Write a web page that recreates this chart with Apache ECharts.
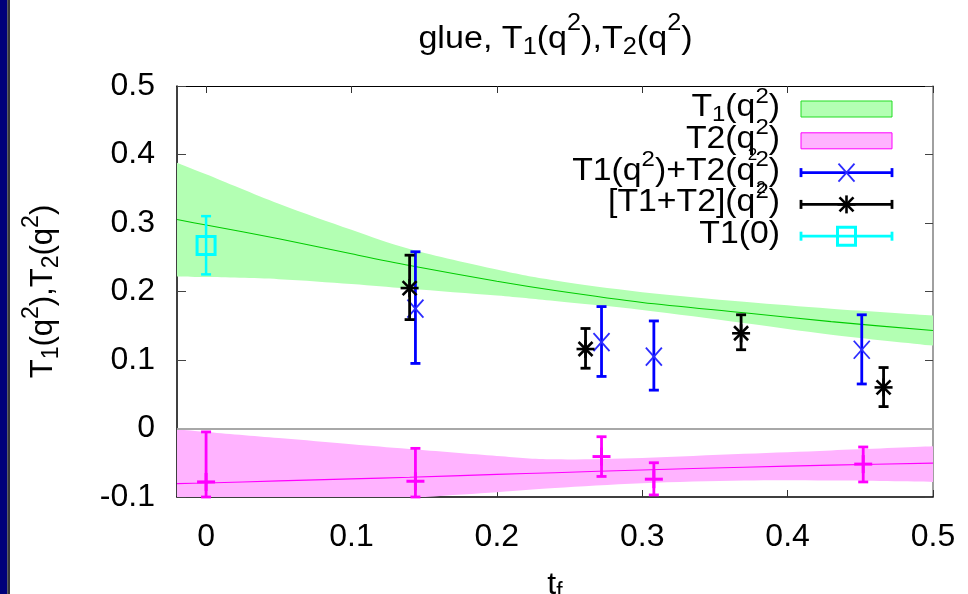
<!DOCTYPE html>
<html>
<head>
<meta charset="utf-8">
<script src="https://cdn.jsdelivr.net/npm/echarts@6/dist/echarts.min.js"></script>
<style>
  html, body { margin: 0; padding: 0; background: #ffffff; }
  #chart { width: 968px; height: 594px; }
</style>
</head>
<body>
<div id="chart"></div>
<script>
// ---- fit bands, sampled along t_f ----
const bandT = [-0.02, 0.0, 0.05, 0.1, 0.14, 0.2, 0.24, 0.3, 0.37, 0.43, 0.5];
const t1Mid = [0.305, 0.297, 0.277, 0.255, 0.238, 0.215, 0.2015, 0.184, 0.169, 0.156, 0.143];
const t1Hi  = [0.388, 0.371, 0.328, 0.290, 0.262, 0.232, 0.216, 0.199, 0.185, 0.175, 0.165];
const t1Lo  = [0.222, 0.221, 0.218, 0.211, 0.204, 0.194, 0.186, 0.173, 0.154, 0.137, 0.121];
const t2Mid = [-0.0805, -0.0795, -0.0765, -0.0735, -0.0712, -0.067, -0.0645, -0.0605, -0.0565, -0.0535, -0.0505];
const t2Hi  = [-0.001, -0.005, -0.014, -0.023, -0.030, -0.040, -0.045, -0.043, -0.037, -0.032, -0.026];
const t2Lo  = [-0.150, -0.144, -0.130, -0.114, -0.102, -0.093, -0.087, -0.080, -0.076, -0.076, -0.078];

// ---- T1(q^2)+T2(q^2) ----
const sumT  = [0.144, 0.272, 0.308, 0.451];
const sumV  = [0.175, 0.126, 0.105, 0.115];
const sumLo = [0.095, 0.076, 0.056, 0.065];
const sumHi = [0.258, 0.178, 0.157, 0.166];

// ---- [T1+T2](q^2) ----
const combT  = [0.140, 0.261, 0.368, 0.466];
const combV  = [0.205, 0.116, 0.139, 0.060];
const combLo = [0.159, 0.088, 0.115, 0.032];
const combHi = [0.253, 0.146, 0.166, 0.089];

// ---- T2 points ----
const t2T   = [0.0, 0.144, 0.272, 0.308, 0.452];
const t2V   = [-0.078, -0.077, -0.041, -0.074, -0.052];
const t2PLo = [-0.100, -0.100, -0.070, -0.097, -0.078];
const t2PHi = [-0.005, -0.029, -0.012, -0.050, -0.027];

// ---- T1(0) ----
const t10T  = [0.0];
const t10V  = [0.267];
const t10Lo = [0.225];
const t10Hi = [0.310];

// ---- axis ticks ----
const xTicks = [0, 0.1, 0.2, 0.3, 0.4, 0.5];

const FONT = '"Liberation Sans", Arial, Helvetica, sans-serif';

function richStyles(F, f, up, down) {
  return {
    m:   { fontSize: F, lineHeight: F, fontFamily: FONT, color: '#000' },
    sup: { fontSize: f, lineHeight: f, fontFamily: FONT, color: '#000', padding: [0, 0, 2 * up, 0] },
    sub: { fontSize: f, lineHeight: f, fontFamily: FONT, color: '#000', padding: [2 * down, 0, 0, 0] }
  };
}

const titleText  = '{m|glue, T}{sub|1}{m|(q}{sup|2}{m|),T}{sub|2}{m|(q}{sup|2}{m|)}';
const yNameText  = '{m|T}{sub|1}{m|(q}{sup|2}{m|),T}{sub|2}{m|(q}{sup|2}{m|)}';
const xNameText  = '{m|t}{sub|f}';
const legendText = [
  '{m|T}{sub|1}{m|(q}{sup|2}{m|)}',
  '{m|T2(q}{sup|2}{m|)}',
  '{m|T1(q}{sup|2}{m|)+T2(q}{sup|2}{m|)}',
  '{m|[T1+T2](q}{sup|2}{m|)}',
  '{m|T1(0)}'
];

const C_GREEN_FILL = '#b3ffb3';
const C_PINK_FILL  = '#ffb3ff';
const C_GREEN_LINE = '#00cc00';
const C_MAGENTA    = '#ff00ff';
const C_BLUE       = '#0000ff';
const C_BLUE_MARK  = '#2b2bff';
const C_BLACK      = '#000000';
const C_CYAN       = '#00ffff';

function seg(x1, y1, x2, y2, color, w) {
  return { type: 'line', shape: { x1, y1, x2, y2 }, style: { stroke: color, lineWidth: w } };
}

function markerShapes(kind, cx, cy, color) {
  switch (kind) {
    case 'x':
      return [seg(cx - 8, cy - 9, cx + 8, cy + 9, color, 1.8), seg(cx - 8, cy + 9, cx + 8, cy - 9, color, 1.8)];
    case 'star':
      return [
        seg(cx - 9, cy, cx + 9, cy, color, 2.6), seg(cx, cy - 9, cx, cy + 9, color, 2.6),
        seg(cx - 7, cy - 7, cx + 7, cy + 7, color, 2.6), seg(cx - 7, cy + 7, cx + 7, cy - 7, color, 2.6)
      ];
    case 'plus':
      return [seg(cx - 9, cy, cx + 9, cy, color, 3), seg(cx, cy - 9, cx, cy + 9, color, 3)];
    case 'square':
      return [{ type: 'rect', shape: { x: cx - 9, y: cy - 9, width: 18, height: 18 }, style: { stroke: color, fill: 'none', lineWidth: 3 } }];
  }
  return [];
}

function pointSeries(name, xs, ys, los, his, barColor, kind, markColor, barW) {
  return {
    type: 'custom', name, xAxisIndex: 0, yAxisIndex: 0, z: 5, silent: true,
    data: xs.map((x, i) => [x, ys[i], los[i], his[i]]),
    encode: { x: 0, y: [1, 2, 3] },
    renderItem: function (params, api) {
      const x = api.value(0);
      const c = api.coord([x, api.value(1)]);
      const lo = api.coord([x, api.value(2)]);
      const hi = api.coord([x, api.value(3)]);
      const children = [
        seg(c[0], lo[1], c[0], hi[1], barColor, barW),
        seg(c[0] - 5, lo[1], c[0] + 5, lo[1], barColor, barW),
        seg(c[0] - 5, hi[1], c[0] + 5, hi[1], barColor, barW)
      ].concat(markerShapes(kind, c[0], c[1], markColor));
      return { type: 'group', children };
    }
  };
}

// Catmull-Rom curve through pixel points, as SVG path commands
function splineCmds(pts, start) {
  let d = (start ? 'M' : 'L') + pts[0][0].toFixed(2) + ',' + pts[0][1].toFixed(2);
  for (let i = 0; i < pts.length - 1; i++) {
    const p0 = pts[i - 1] || pts[i], p1 = pts[i], p2 = pts[i + 1], p3 = pts[i + 2] || pts[i + 1];
    const c1 = [p1[0] + (p2[0] - p0[0]) / 6, p1[1] + (p2[1] - p0[1]) / 6];
    const c2 = [p2[0] - (p3[0] - p1[0]) / 6, p2[1] - (p3[1] - p1[1]) / 6];
    d += ' C' + c1[0].toFixed(2) + ',' + c1[1].toFixed(2) + ' ' + c2[0].toFixed(2) + ',' + c2[1].toFixed(2) + ' ' + p2[0].toFixed(2) + ',' + p2[1].toFixed(2);
  }
  return d;
}

// confidence band: filled region between the lower and upper edges
function bandSeries(name, lo, hi, fill) {
  return {
    type: 'custom', name, xAxisIndex: 0, yAxisIndex: 0, z: 1, silent: true, clip: true,
    data: bandT.map((t, i) => [t, lo[i], hi[i]]),
    encode: { x: 0, y: [1, 2] },
    renderItem: function (params, api) {
      if (params.dataIndex !== 0) return null;
      const top = bandT.map((t, i) => api.coord([t, hi[i]]));
      const bot = bandT.map((t, i) => api.coord([t, lo[i]])).reverse();
      const d = splineCmds(top, true) + ' ' + splineCmds(bot, false) + ' Z';
      return { type: 'path', shape: { pathData: d }, style: { fill: fill, stroke: null } };
    }
  };
}

function centreLine(vals, color, extra) {
  return Object.assign({
    type: 'line', silent: true, z: 2,
    data: bandT.map((t, i) => [t, vals[i]]),
    symbol: 'none', smooth: 0.3, lineStyle: { color, width: 1.1 }
  }, extra || {});
}

// ---- legend (drawn as graphics: text on the left, sample on the right) ----
const LX1 = 801, LX2 = 892, LXC = 846.5, LTEXT = 780, LY0 = 109, LSTEP = 31.8;
const legendRich = richStyles(31, 22, 11, 7);
const legendEls = [];
legendText.forEach((t, i) => {
  legendEls.push({
    type: 'text', x: LTEXT, y: LY0 + i * LSTEP - 1.5, z: 10, scaleX: 1.09, originX: 0, originY: 0,
    style: { text: t, rich: legendRich, align: 'right', verticalAlign: 'middle', fontSize: 31, fontFamily: FONT, fill: '#000' }
  });
});
// stray subscripts beneath q^2 in rows two and three
[[752.5, LY0 + LSTEP + 15], [761, LY0 + 2 * LSTEP + 16]].forEach(p => {
  legendEls.push({
    type: 'text', x: p[0], y: p[1], z: 10,
    style: { text: '2', align: 'center', verticalAlign: 'middle', fontSize: 17, fontFamily: FONT, fill: '#000' }
  });
});
legendEls.push({ type: 'rect', z: 10, shape: { x: LX1, y: LY0 - 8, width: LX2 - LX1, height: 16 }, style: { fill: C_GREEN_FILL, stroke: '#22dd22', lineWidth: 1 } });
legendEls.push({ type: 'rect', z: 10, shape: { x: LX1, y: LY0 + LSTEP - 8, width: LX2 - LX1, height: 16 }, style: { fill: C_PINK_FILL, stroke: C_MAGENTA, lineWidth: 1 } });
function legendBar(row, color, kind, markColor) {
  const y = LY0 + row * LSTEP;
  legendEls.push({ type: 'group', z: 10, children: [
    seg(LX1, y, LX2, y, color, 2.8),
    seg(LX1, y - 4.5, LX1, y + 4.5, color, 2.8),
    seg(LX2, y - 4.5, LX2, y + 4.5, color, 2.8)
  ].concat(markerShapes(kind, LXC, y, markColor)) });
}
legendBar(2, C_BLUE, 'x', C_BLUE_MARK);
legendBar(3, C_BLACK, 'star', C_BLACK);
legendBar(4, C_CYAN, 'square', C_CYAN);

const option = {
  animation: false,
  backgroundColor: '#ffffff',
  grid: { left: 177, right: 35, top: 86, bottom: 97, containLabel: false, outerBoundsMode: 'none' },
  xAxis: [
    {
      type: 'value', position: 'bottom', min: -0.02, max: 0.5,
      axisLine: { show: true, onZero: false, lineStyle: { color: '#000', width: 1.5 } },
      axisTick: { show: true, inside: true, length: 7, customValues: xTicks, lineStyle: { color: '#333', width: 1 } },
      axisLabel: { show: true, customValues: xTicks, fontSize: 32, fontFamily: FONT, color: '#000', margin: 24 },
      splitLine: { show: false },
      name: xNameText, nameLocation: 'middle', nameGap: 72,
      nameTextStyle: { rich: richStyles(32, 23, 12, 8) }
    },
    {
      type: 'value', position: 'top', min: -0.02, max: 0.5,
      axisLine: { show: true, onZero: false, lineStyle: { color: '#000', width: 1.2 } },
      axisTick: { show: true, inside: true, length: 7, customValues: xTicks, lineStyle: { color: '#333', width: 1 } },
      axisLabel: { show: false },
      splitLine: { show: false }
    }
  ],
  yAxis: [
    {
      type: 'value', position: 'left', min: -0.1, max: 0.5, interval: 0.1,
      axisLine: { show: true, onZero: false, lineStyle: { color: '#000', width: 1.5 } },
      axisTick: { show: true, inside: true, length: 9, lineStyle: { color: '#444', width: 1 } },
      axisLabel: { show: true, fontSize: 32, fontFamily: FONT, color: '#000', margin: 22 },
      splitLine: { show: false },
      name: yNameText, nameLocation: 'middle', nameGap: 118, nameRotate: 90,
      nameTextStyle: { rich: richStyles(31, 23, 12, 8) }
    },
    {
      type: 'value', position: 'right', min: -0.1, max: 0.5, interval: 0.1,
      axisLine: { show: true, onZero: false, lineStyle: { color: '#808080', width: 1.5 } },
      axisTick: { show: true, inside: true, length: 8, lineStyle: { color: '#444', width: 1 } },
      axisLabel: { show: false },
      splitLine: { show: false }
    }
  ],
  graphic: {
    elements: [
      { type: 'rect', shape: { x: 0, y: 0, width: 7.3, height: 594 }, style: { fill: '#00007a' } },
      { type: 'rect', shape: { x: 7.3, y: 0, width: 2.7, height: 594 }, style: { fill: '#3a3a3a' } },
      {
        type: 'text', x: 555.5, y: 39, scaleX: 1.1, originX: 0, originY: 0,
        style: { text: titleText, rich: richStyles(31, 23, 15, 9), align: 'center', verticalAlign: 'middle', fontSize: 31, fontFamily: FONT, fill: '#000' }
      }
    ].concat(legendEls)
  },
  series: [
    bandSeries('T1 band', t1Lo, t1Hi, C_GREEN_FILL),
    bandSeries('T2 band', t2Lo, t2Hi, C_PINK_FILL),
    centreLine(t1Mid, C_GREEN_LINE, {
      markLine: {
        silent: true, symbol: 'none', label: { show: false },
        lineStyle: { color: '#a8a8a8', width: 2, type: 'solid' },
        data: [{ yAxis: 0 }]
      }
    }),
    centreLine(t2Mid, C_MAGENTA),
    pointSeries('T1(q2)+T2(q2)', sumT, sumV, sumLo, sumHi, C_BLUE, 'x', C_BLUE_MARK, 2.8),
    pointSeries('[T1+T2](q2)', combT, combV, combLo, combHi, C_BLACK, 'star', C_BLACK, 2.8),
    pointSeries('T2', t2T, t2V, t2PLo, t2PHi, C_MAGENTA, 'plus', C_MAGENTA, 2.8),
    pointSeries('T1(0)', t10T, t10V, t10Lo, t10Hi, C_CYAN, 'square', C_CYAN, 2.5)
  ]
};

const chart = echarts.init(document.getElementById('chart'), null, { renderer: 'canvas' });
chart.setOption(option);
</script>
</body>
</html>
